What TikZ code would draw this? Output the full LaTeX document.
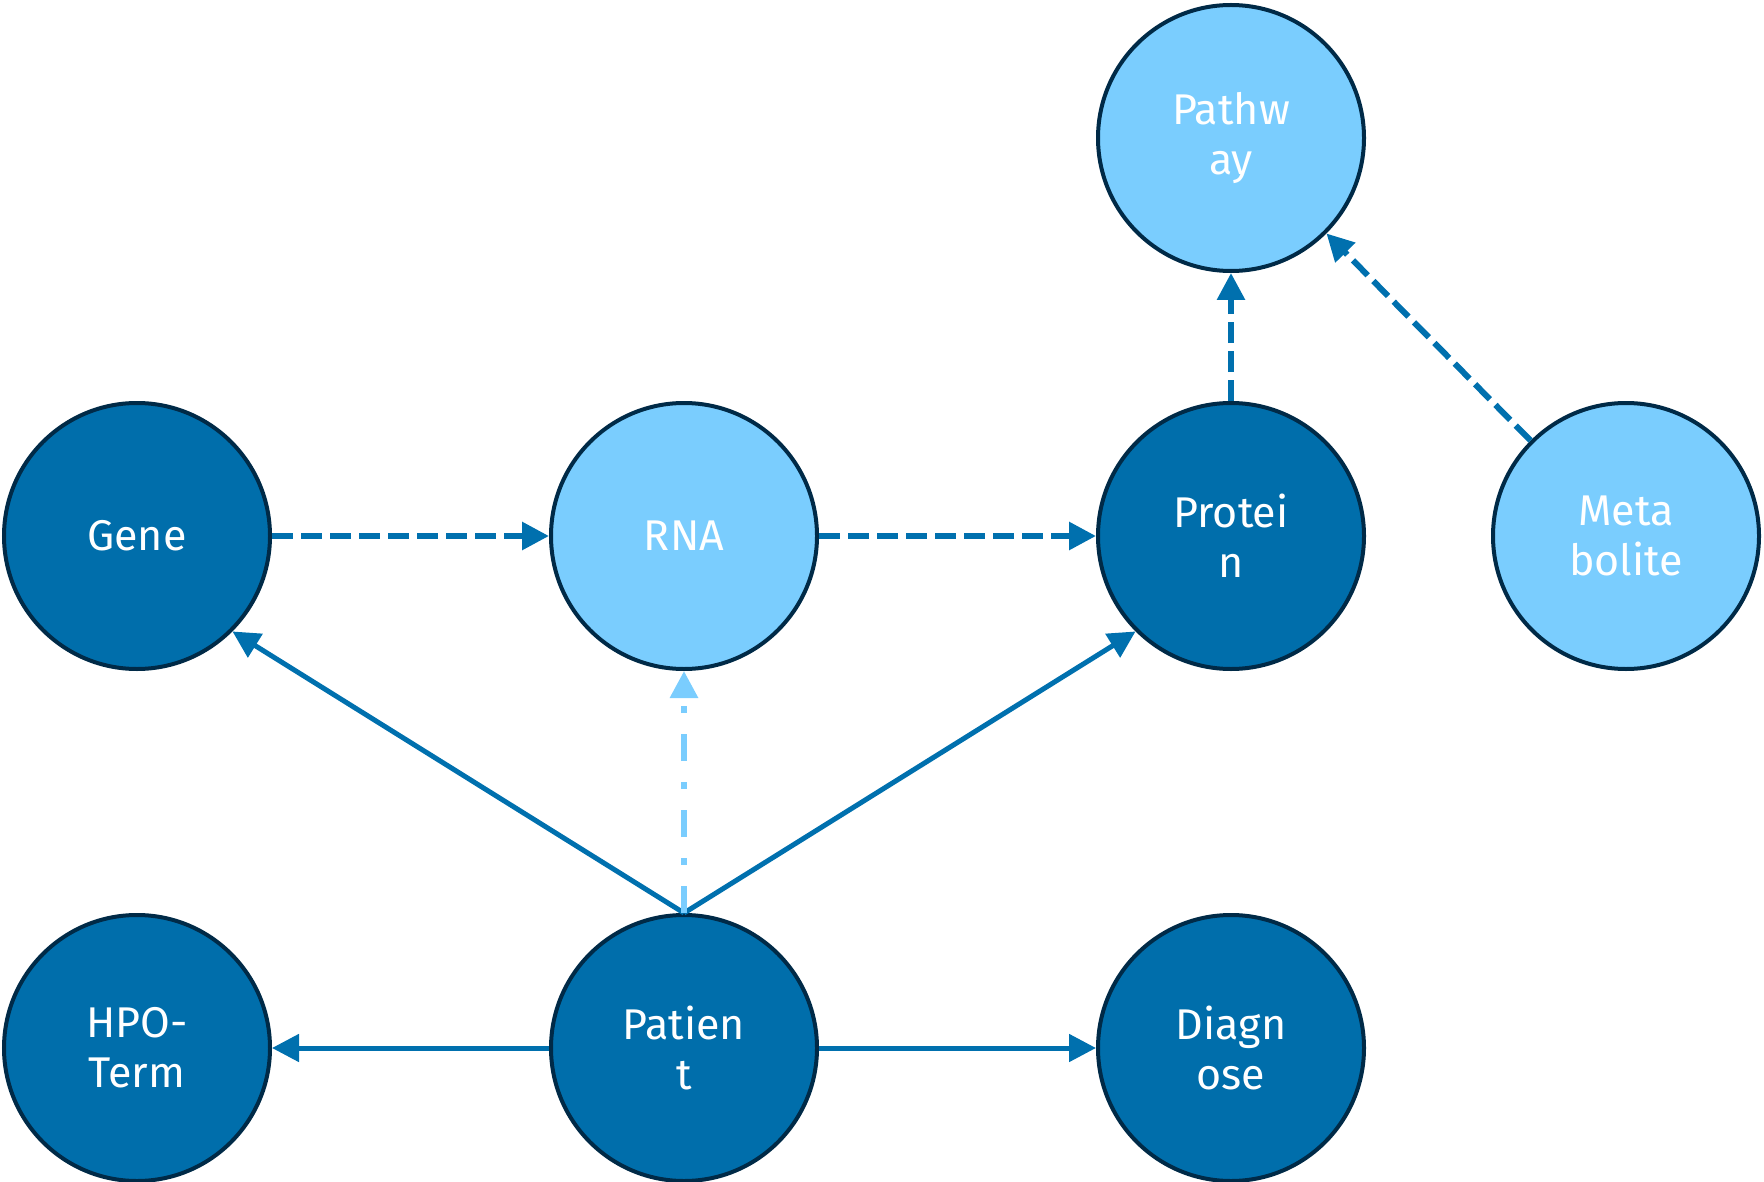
\documentclass[tikz,border=0pt]{standalone}
\usepackage{fontspec}
\setmainfont{Fira Sans}
\usetikzlibrary{arrows.meta}
\definecolor{darkfill}{HTML}{006EAB}
\definecolor{lightfill}{HTML}{7ACDFE}
\definecolor{rim}{HTML}{002A47}
\definecolor{edgeblue}{HTML}{0070AE}
\begin{document}
\begin{tikzpicture}[x=1pt,y=-1pt,
  entity/.style={circle,draw=rim,line width=4pt,minimum size=266pt,inner sep=0pt,
    text=white,align=center,font=\fontsize{43}{50}\selectfont},
  darkent/.style={entity,fill=darkfill},
  lightent/.style={entity,fill=lightfill},
  link/.style={draw=edgeblue,line width=5pt,-{Triangle[length=27pt,width=27pt]}},
  dlink/.style={link,line width=6pt,dash pattern=on 21pt off 8pt},
  ddlink/.style={link,draw=lightfill,line width=6pt,dash pattern=on 27pt off 21pt on 7pt off 21pt}]
\useasboundingbox (0,0) rectangle (1764,1182);
\node[darkent]  (gene)    at (137,536)  {Gene};
\node[lightent] (rna)     at (684,536)  {RNA};
\node[darkent]  (protein) at (1231,536) {Protei\\n};
\node[lightent] (metab)   at (1626,536) {Meta\\bolite};
\node[lightent] (pathway) at (1231,138) {Pathw\\ay};
\node[darkent]  (hpo)     at (137,1048) {HPO-\\Term};
\node[darkent]  (patient) at (684,1048) {Patien\\t};
\node[darkent]  (diag)    at (1231,1048) {Diagn\\ose};
\draw[dlink] (gene.east) -- (rna.west);
\draw[dlink] (rna.east) -- (protein.west);
\draw[dlink] (protein.north) -- (pathway.south);
\draw[dlink] (metab.135) -- (pathway.-45);
\draw[link] (patient.north) -- (gene.-45);
\draw[link] (patient.north) -- (protein.-135);
\draw[ddlink] (patient.north) -- (rna.south);
\draw[link] (patient.west) -- (hpo.east);
\draw[link] (patient.east) -- (diag.west);
\end{tikzpicture}
\end{document}
